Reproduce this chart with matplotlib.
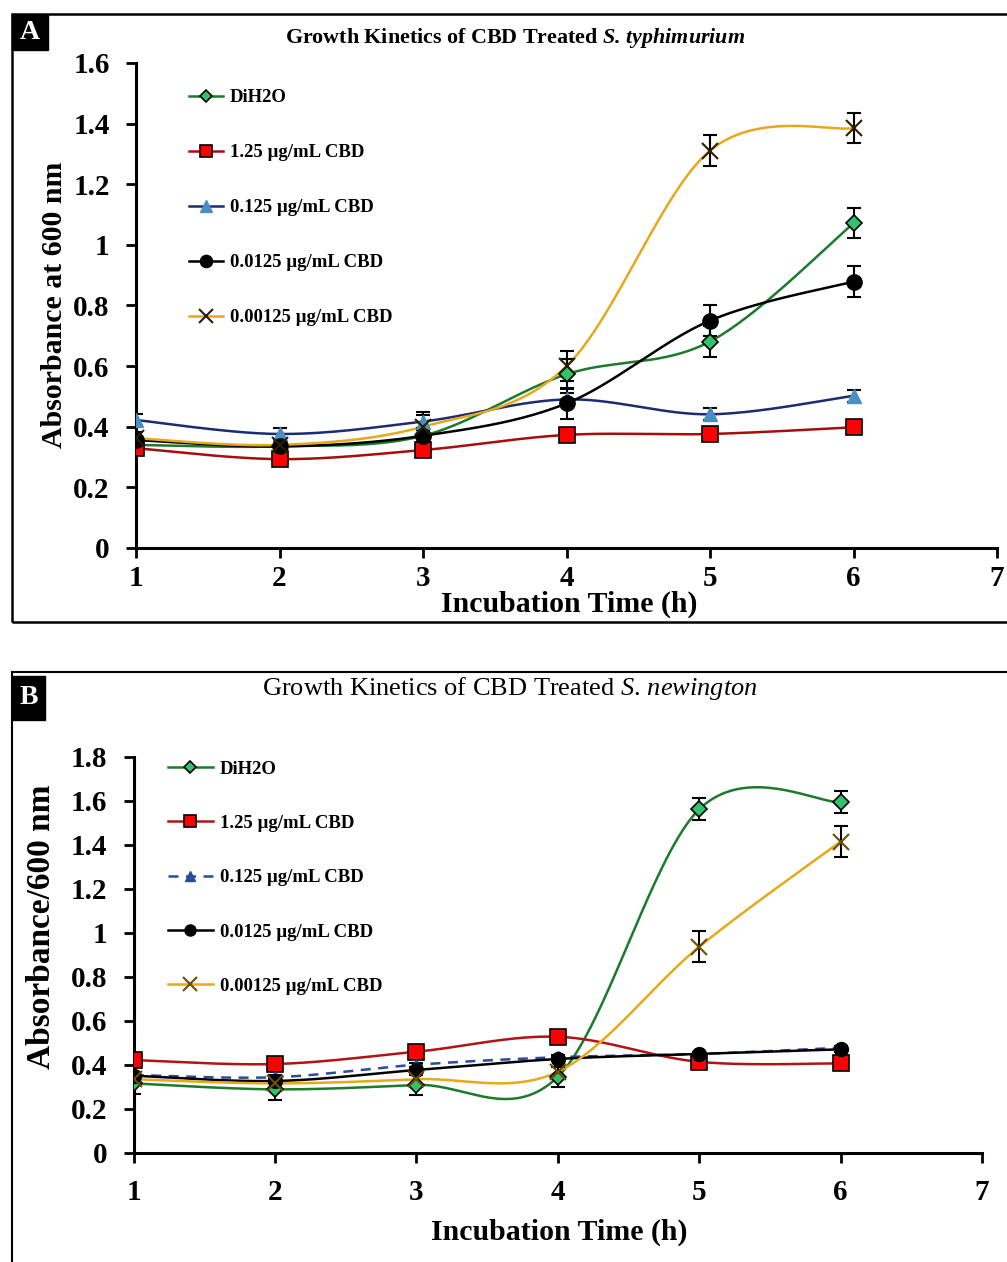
import numpy as np
import matplotlib
matplotlib.use("Agg")
import matplotlib.pyplot as plt
from matplotlib.lines import Line2D
from matplotlib.patches import Rectangle

plt.rcParams['font.family'] = ['Liberation Serif', 'DejaVu Serif']
plt.rcParams['mathtext.fontset'] = 'custom'
plt.rcParams['mathtext.rm'] = 'Liberation Serif'
plt.rcParams['mathtext.it'] = 'Liberation Serif:italic'
plt.rcParams['mathtext.bf'] = 'Liberation Serif:bold'
plt.rcParams['mathtext.bfit'] = 'Liberation Serif:italic:bold'

# data
hours = [1, 2, 3, 4, 5, 6]
labels = ['DiH2O', '1.25 µg/mL CBD', '0.125 µg/mL CBD', '0.0125 µg/mL CBD', '0.00125 µg/mL CBD']

# panel A - S. typhimurium
a_dih2o = [0.34, 0.335, 0.37, 0.573, 0.681, 1.071]
a_125 = [0.329, 0.293, 0.323, 0.373, 0.376, 0.398]
a_0125 = [0.422, 0.376, 0.417, 0.49, 0.441, 0.502]
a_00125 = [0.356, 0.335, 0.370, 0.477, 0.750, 0.879]
a_000125 = [0.362, 0.340, 0.400, 0.600, 1.311, 1.385]
a_err = [[0.02, 0.02, 0.02, 0.05, 0.05, 0.05],
         [0.01, 0.01, 0.01, 0.01, 0.01, 0.01],
         [0.02, 0.02, 0.02, 0.02, 0.02, 0.02],
         [0.05, 0.02, 0.02, 0.05, 0.05, 0.05],
         [0.02, 0.02, 0.05, 0.05, 0.05, 0.05]]

# panel B - S. newington
b_dih2o = [0.315, 0.288, 0.308, 0.345, 1.561, 1.593]
b_125 = [0.421, 0.403, 0.459, 0.527, 0.413, 0.406]
b_0125 = [0.353, 0.343, 0.400, 0.434, 0.449, 0.477]
b_00125 = [0.350, 0.326, 0.376, 0.426, 0.449, 0.470]
b_000125 = [0.334, 0.315, 0.334, 0.368, 0.936, 1.414]
b_err = [[0.05, 0.05, 0.045, 0.045, 0.05, 0.05],
         [0.01, 0.01, 0.01, 0.01, 0.01, 0.01],
         [0.01, 0.01, 0.01, 0.01, 0.01, 0.01],
         [0.01, 0.01, 0.01, 0.01, 0.01, 0.01],
         [0.02, 0.02, 0.02, 0.02, 0.07, 0.07]]


def smooth(x, y, n=40):
    # excel-like smoothed line (catmull-rom bezier)
    x = np.asarray(x, float)
    y = np.asarray(y, float)
    px = np.concatenate([[x[0]], x, [x[-1]]])
    py = np.concatenate([[y[0]], y, [y[-1]]])
    t = np.linspace(0, 1, n)
    xs, ys = [], []
    for i in range(1, len(px) - 2):
        for p, out in ((px, xs), (py, ys)):
            p0, p1, p2, p3 = p[i - 1], p[i], p[i + 1], p[i + 2]
            c1 = p1 + (p2 - p0) / 6
            c2 = p2 - (p3 - p1) / 6
            b = (1 - t) ** 3 * p1 + 3 * (1 - t) ** 2 * t * c1 + 3 * (1 - t) * t ** 2 * c2 + t ** 3 * p2
            out.extend(b)
    return np.array(xs), np.array(ys)


def draw_panel(ax, series, errs, styles, ymax, yticks):
    for vals, err, st in zip(series, errs, styles):
        sx, sy = smooth(hours, vals)
        ax.plot(sx, sy, color=st['lc'], lw=1.8, ls=st.get('ls', '-'), zorder=2)
        ax.errorbar(hours, vals, yerr=err, fmt='none', ecolor='black', elinewidth=1.5,
                    capsize=5, capthick=1.5, zorder=3)
        ax.plot(hours, vals, ls='none', marker=st['m'], ms=st['ms'], mfc=st['mfc'],
                mec=st['mec'], mew=st['mew'], zorder=4)
    ax.set_xlim(1, 7)
    ax.set_ylim(0, ymax)
    ax.set_xticks(range(1, 8))
    ax.set_yticks(yticks)
    ax.set_yticklabels([('%g' % v) for v in yticks])
    for s in ['top', 'right']:
        ax.spines[s].set_visible(False)
    for s in ['left', 'bottom']:
        ax.spines[s].set_linewidth(2.2)
    ax.tick_params(direction='out', length=7, width=2)
    for lab in ax.get_xticklabels() + ax.get_yticklabels():
        lab.set_fontweight('bold')
        lab.set_fontsize(21)
    handles = [Line2D([], [], color=st['lc'], lw=1.8, ls=st.get('ls', '-'), marker=st['m'],
                      ms=st['ms'] * 0.8, mfc=st['mfc'], mec=st['mec'], mew=st['mew'])
               for st in styles]
    return handles


fig = plt.figure(figsize=(10.07, 12.62), dpi=100)

styles_a = [
    dict(lc='#1b7a2c', m='D', ms=8, mfc='#2fc46a', mec='black', mew=1.2),
    dict(lc='#a80d0d', m='s', ms=11, mfc='#ff0000', mec='black', mew=1.2),
    dict(lc='#1c2c70', m='^', ms=10, mfc='#4a8fc4', mec='#4a8fc4', mew=1.0),
    dict(lc='black', m='o', ms=11, mfc='black', mec='black', mew=1.0),
    dict(lc='#e8a81c', m='x', ms=12, mfc='none', mec='#2a2000', mew=1.5),
]
styles_b = [
    dict(lc='#1b7a2c', m='D', ms=8, mfc='#2fc46a', mec='black', mew=1.2),
    dict(lc='#b01414', m='s', ms=11, mfc='#ff0000', mec='black', mew=1.2),
    dict(lc='#2a4c9c', m='^', ms=9, mfc='#2a4c9c', mec='#2a4c9c', mew=1.0, ls=(0, (4, 3))),
    dict(lc='black', m='o', ms=10, mfc='black', mec='black', mew=1.0),
    dict(lc='#e8a81c', m='x', ms=12, mfc='none', mec='#6b4e00', mew=1.5),
]

# panel A
axA = fig.add_axes([0.1351, 0.5658, 0.855, 0.3843])
hA = draw_panel(axA, [a_dih2o, a_125, a_0125, a_00125, a_000125], a_err, styles_a,
                1.6, [0, 0.2, 0.4, 0.6, 0.8, 1.0, 1.2, 1.4, 1.6])
axA.tick_params(axis='x', pad=5)
axA.tick_params(axis='y', pad=12)
axA.legend(hA, labels, loc='upper left', bbox_to_anchor=(0.062, 0.946), frameon=False,
           prop={'family': 'Liberation Serif', 'weight': 'bold', 'size': 13.5},
           labelspacing=2.02, handlelength=1.8, handletextpad=0.35, borderpad=0, borderaxespad=0)

# panel B
axB = fig.add_axes([0.1327, 0.0866, 0.8425, 0.3138])
hB = draw_panel(axB, [b_dih2o, b_125, b_0125, b_00125, b_000125], b_err, styles_b,
                1.8, [0, 0.2, 0.4, 0.6, 0.8, 1.0, 1.2, 1.4, 1.6, 1.8])
axB.tick_params(axis='x', pad=12)
axB.tick_params(axis='y', pad=12)
axB.legend(hB, labels, loc='upper left', bbox_to_anchor=(0.04, 0.99), frameon=False,
           prop={'family': 'Liberation Serif', 'weight': 'bold', 'size': 13.5},
           labelspacing=1.98, handlelength=2.4, handletextpad=0.4, borderpad=0, borderaxespad=0)

# titles and axis labels
fig.text(0.5114, 0.9699, r'Growth Kinetics of CBD Treated $\mathbfit{S.\,typhimurium}$',
         ha='center', va='center', fontsize=15.8, fontweight='bold')
fig.text(0.5065, 0.4548, r'Growth Kinetics of CBD Treated $\mathit{S.\,newington}$',
         ha='center', va='center', fontsize=19)
fig.text(0.565, 0.5214, 'Incubation Time (h)', ha='center', va='center', fontsize=21.5, fontweight='bold')
fig.text(0.555, 0.0238, 'Incubation Time (h)', ha='center', va='center', fontsize=21.5, fontweight='bold')
fig.text(0.0546, 0.7583, 'Absorbance at 600 nm', ha='center', va='center', rotation=90,
         fontsize=21.5, fontweight='bold')
fig.text(0.0417, 0.2655, 'Absorbance/600 nm', ha='center', va='center', rotation=90,
         fontsize=24, fontweight='bold')

# panel frames and letter boxes
fig.add_artist(Rectangle((0.0119, 0.5071), 1.0, 0.4818, transform=fig.transFigure,
                         fill=False, lw=1.8, ec='black'))
fig.add_artist(Rectangle((0.0119, -0.05), 1.0, 0.5175, transform=fig.transFigure,
                         fill=False, lw=1.5, ec='black'))
fig.add_artist(Rectangle((0.0119, 0.9604), 0.0357, 0.0277, transform=fig.transFigure,
                         fc='black', ec='black'))
fig.add_artist(Rectangle((0.0119, 0.4295), 0.0328, 0.0349, transform=fig.transFigure,
                         fc='black', ec='black'))
fig.text(0.0297, 0.9742, 'A', color='white', ha='center', va='center', fontsize=20, fontweight='bold')
fig.text(0.0283, 0.4470, 'B', color='white', ha='center', va='center', fontsize=20, fontweight='bold')

fig.savefig('out.png', dpi=100)
